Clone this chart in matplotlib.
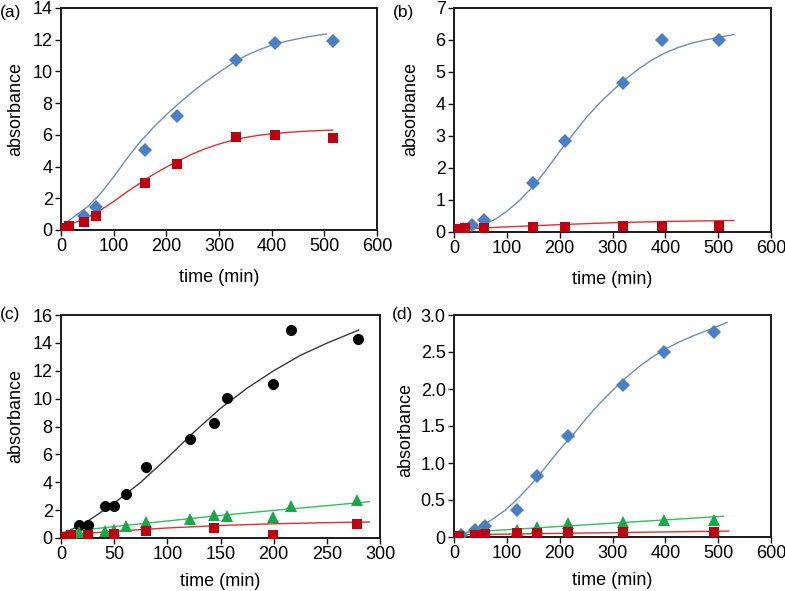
import matplotlib
matplotlib.use("Agg")
import matplotlib.pyplot as plt

plt.rcParams['font.family'] = ['Liberation Sans', 'DejaVu Sans']

# ---------------- data ----------------
# panel (a)
a_blue_t = [44, 66, 160, 221, 332, 406, 516]
a_blue_v = [0.9, 1.47, 5.05, 7.2, 10.74, 11.79, 11.92]
a_red_t = [3, 16, 44, 66, 160, 221, 332, 406, 516]
a_red_v = [0.14, 0.25, 0.5, 0.87, 2.95, 4.15, 5.85, 6.0, 5.79]
a_blue_fit_t = [10, 25, 50, 75, 100, 125, 150, 175, 200, 225, 250, 275, 300, 325, 350, 375, 400, 425, 450, 475, 504]
a_blue_fit_v = [0.45, 0.85, 1.45, 2.3, 3.35, 4.5, 5.55, 6.45, 7.27, 8.02, 8.72, 9.36, 9.94, 10.5, 10.98, 11.35, 11.66, 11.88, 12.06, 12.22, 12.36]
a_red_fit_t = [0, 25, 50, 75, 100, 125, 150, 175, 200, 225, 250, 275, 300, 325, 350, 375, 400, 425, 450, 475, 500, 516]
a_red_fit_v = [0.2, 0.45, 0.8, 1.25, 1.8, 2.4, 2.95, 3.5, 3.97, 4.4, 4.8, 5.14, 5.42, 5.65, 5.83, 5.97, 6.07, 6.14, 6.2, 6.25, 6.28, 6.3]

# panel (b)
b_blue_t = [17, 35, 56, 150, 211, 320, 393, 502]
b_blue_v = [0.08, 0.22, 0.37, 1.54, 2.84, 4.66, 6.01, 6.0]
b_red_t = [5, 20, 56, 150, 211, 320, 393, 502]
b_red_v = [0.1, 0.11, 0.12, 0.15, 0.17, 0.2, 0.2, 0.2]
b_blue_fit_t = [20, 40, 60, 80, 100, 125, 150, 175, 200, 225, 250, 275, 300, 325, 350, 375, 400, 425, 450, 475, 500, 530]
b_blue_fit_v = [0.04, 0.12, 0.25, 0.42, 0.65, 1.0, 1.43, 1.95, 2.52, 3.05, 3.57, 4.02, 4.42, 4.78, 5.1, 5.38, 5.6, 5.77, 5.9, 6.0, 6.08, 6.17]
b_red_fit_t = [0, 100, 200, 300, 400, 530]
b_red_fit_v = [0.08, 0.16, 0.23, 0.29, 0.33, 0.36]

# panel (c)
c_black_t = [17, 25, 41, 50, 61, 80, 121.6, 144, 156, 199, 216, 279.6]
c_black_v = [0.9, 0.96, 2.27, 2.27, 3.16, 5.07, 7.13, 8.25, 10.08, 11.05, 14.92, 14.25]
c_green_t = [6, 10, 17, 41, 50, 61, 80, 121.6, 144, 156, 199, 216, 278]
c_green_v = [0.2, 0.3, 0.43, 0.5, 0.6, 0.88, 1.12, 1.38, 1.62, 1.6, 1.5, 2.3, 2.75]
c_red_t = [3, 9, 25, 50, 80, 144, 199, 278]
c_red_v = [0.1, 0.25, 0.22, 0.3, 0.47, 0.7, 0.22, 1.0]
c_black_fit_t = [0, 15, 25, 50, 75, 100, 125, 150, 175, 200, 225, 250, 280]
c_black_fit_v = [0.24, 0.8, 1.2, 2.5, 4.0, 5.75, 7.6, 9.3, 10.75, 12.0, 13.1, 13.98, 14.92]
c_green_fit_t = [0, 50, 100, 150, 200, 250, 290]
c_green_fit_v = [0.4, 0.82, 1.22, 1.62, 1.98, 2.32, 2.6]
c_red_fit_t = [0, 50, 100, 150, 200, 250, 290]
c_red_fit_v = [0.2, 0.48, 0.72, 0.9, 1.02, 1.1, 1.15]

# panel (d)
d_blue_t = [14, 40, 59, 118.6, 156.5, 215.8, 320.5, 397.5, 492]
d_blue_v = [0.03, 0.1, 0.15, 0.36, 0.83, 1.36, 2.06, 2.5, 2.77]
d_green_t = [14, 40, 59, 118.6, 156.5, 215.8, 320.5, 397.5, 492]
d_green_v = [0.03, 0.05, 0.05, 0.1, 0.13, 0.19, 0.2, 0.23, 0.23]
d_red_t = [9, 40, 59, 118.6, 156.5, 215.8, 320.5, 492]
d_red_v = [0.02, 0.03, 0.04, 0.05, 0.06, 0.07, 0.07, 0.07]
d_blue_fit_t = [0, 25, 50, 75, 100, 125, 150, 175, 200, 225, 250, 275, 300, 325, 350, 375, 400, 425, 450, 475, 500, 517]
d_blue_fit_v = [0.02, 0.06, 0.14, 0.25, 0.38, 0.55, 0.74, 0.96, 1.18, 1.38, 1.6, 1.8, 1.98, 2.15, 2.3, 2.43, 2.54, 2.63, 2.71, 2.78, 2.85, 2.9]
d_green_fit_t = [0, 510]
d_green_fit_v = [0.054, 0.28]
d_red_fit_t = [0, 520]
d_red_fit_v = [0.03, 0.08]

# ticks
a_yticks = [0, 2, 4, 6, 8, 10, 12, 14]
b_yticks = [0, 1, 2, 3, 4, 5, 6, 7]
c_yticks = [0, 2, 4, 6, 8, 10, 12, 14, 16]
d_yticks = [0, 0.5, 1.0, 1.5, 2.0, 2.5, 3.0]
d_yticklabels = ['0', '0.5', '1.0', '1.5', '2.0', '2.5', '3.0']
abd_xticks = [0, 100, 200, 300, 400, 500, 600]
c_xticks = [0, 50, 100, 150, 200, 250, 300]

# ---------------- style ----------------
BLUE_M = '#4a7fc4'
BLUE_L = '#6d8dbd'
RED_M = '#c00010'
RED_L = '#e0302c'
GREEN_M = '#17a84a'
GREEN_L = '#2fbf5e'
BLACK = '#000000'
GREY_L = '#3a3a3a'
FS = 13

fig = plt.figure(figsize=(7.85, 5.91), dpi=100)
W, H = 785.0, 591.0


def add_axes(l, t, r, b):
    return fig.add_axes([l / W, 1 - b / H, (r - l) / W, (b - t) / H])


axA = add_axes(61, 8, 377, 230)
axB = add_axes(454, 8, 771, 232)
axC = add_axes(61, 315, 380, 538)
axD = add_axes(454, 315, 771, 537)


def style(ax, xlim, xticks, ylim, yticks, ylabels, xl_y, yl_x, yl_y):
    ax.set_xlim(*xlim)
    ax.set_ylim(*ylim)
    ax.set_xticks(xticks)
    ax.set_yticks(yticks)
    if ylabels is not None:
        ax.set_yticklabels(ylabels)
    ax.tick_params(direction='out', length=4, width=1, labelsize=FS, pad=2,
                   top=False, right=False, colors='#111111', labelcolor='black')
    for s in ax.spines.values():
        s.set_linewidth(1.4)
        s.set_color('#1a1a1a')
    ax.set_xlabel('time (min)', fontsize=FS)
    ax.set_ylabel('absorbance', fontsize=FS)
    ax.xaxis.label.set_va('center')
    ax.yaxis.label.set_va('center')
    ax.xaxis.set_label_coords(0.5, xl_y)
    ax.yaxis.set_label_coords(yl_x, yl_y)


MS = dict(markeredgewidth=0, linestyle='none', zorder=3)
LW = 1.0
DMS = 7.2
TMS = 8.5

# (a)
axA.plot(a_blue_fit_t, a_blue_fit_v, color=BLUE_L, lw=LW, zorder=2)
axA.plot(a_red_fit_t, a_red_fit_v, color=RED_L, lw=LW, zorder=2)
axA.plot(a_blue_t, a_blue_v, marker='D', ms=DMS, color=BLUE_M, **MS)
axA.plot(a_red_t, a_red_v, marker='s', ms=7.5, color=RED_M, **MS)
style(axA, (0, 600), abd_xticks, (0, 14), a_yticks, None, -0.216, -0.142, 0.545)

# (b)
axB.plot(b_blue_fit_t, b_blue_fit_v, color=BLUE_L, lw=LW, zorder=2)
axB.plot(b_red_fit_t, b_red_fit_v, color=RED_L, lw=LW, zorder=2)
axB.plot(b_blue_t, b_blue_v, marker='D', ms=DMS, color=BLUE_M, **MS)
axB.plot(b_red_t, b_red_v, marker='s', ms=7.5, color=RED_M, **MS)
style(axB, (0, 600), abd_xticks, (0, 7), b_yticks, None, -0.214, -0.137, 0.547)

# (c)
axC.plot(c_black_fit_t, c_black_fit_v, color=GREY_L, lw=LW, zorder=2)
axC.plot(c_green_fit_t, c_green_fit_v, color=GREEN_L, lw=LW, zorder=2)
axC.plot(c_red_fit_t, c_red_fit_v, color=RED_L, lw=LW, zorder=2)
axC.plot(c_black_t, c_black_v, marker='o', ms=8, color=BLACK, **MS)
axC.plot(c_green_t, c_green_v, marker='^', ms=TMS, color=GREEN_M, **MS)
axC.plot(c_red_t, c_red_v, marker='s', ms=7.5, color=RED_M, **MS)
style(axC, (0, 300), c_xticks, (0, 16), c_yticks, None, -0.196, -0.141, 0.547)

# (d)
axD.plot(d_blue_fit_t, d_blue_fit_v, color=BLUE_L, lw=LW, zorder=2)
axD.plot(d_green_fit_t, d_green_fit_v, color=GREEN_L, lw=LW, zorder=2)
axD.plot(d_red_fit_t, d_red_fit_v, color=RED_L, lw=LW, zorder=2)
axD.plot(d_blue_t, d_blue_v, marker='D', ms=DMS, color=BLUE_M, **MS)
axD.plot(d_green_t, d_green_v, marker='^', ms=TMS, color=GREEN_M, **MS)
axD.plot(d_red_t, d_red_v, marker='s', ms=7.5, color=RED_M, **MS)
style(axD, (0, 600), abd_xticks, (0, 3.0), d_yticks, d_yticklabels, -0.194, -0.151, 0.482)

# panel letters
for lbl, x, y in [('(a)', 0, 13), ('(b)', 393, 13), ('(c)', 0, 315), ('(d)', 392, 315)]:
    fig.text(x / W, 1 - y / H, lbl, fontsize=12.5, ha='left', va='center')

fig.savefig('out.png', dpi=100)
